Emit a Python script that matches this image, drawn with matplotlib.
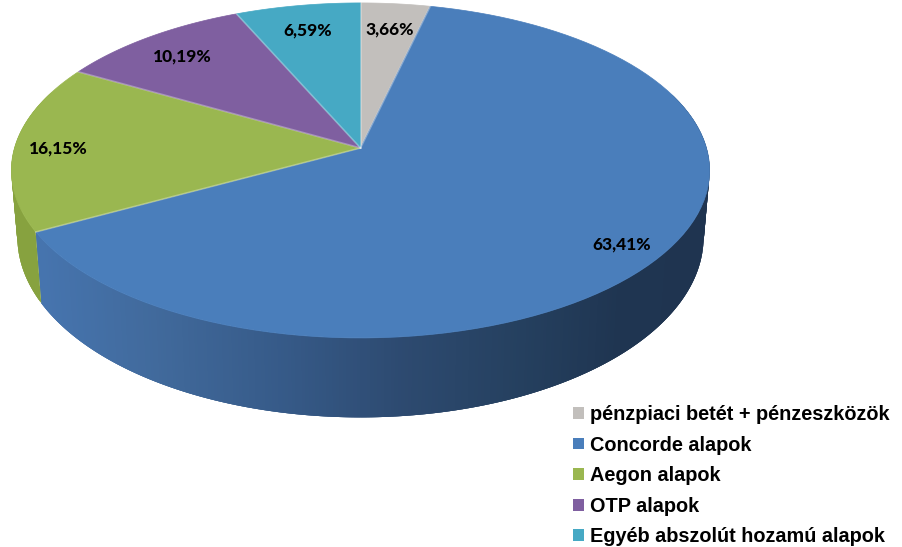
import matplotlib
matplotlib.use('Agg')
import matplotlib.pyplot as plt
from matplotlib.colors import to_rgb
from matplotlib.patches import Patch
import numpy as np

labels = ['pénzpiaci betét + pénzeszközök', 'Concorde alapok', 'Aegon alapok',
          'OTP alapok', 'Egyéb abszolút hozamú alapok']
values = [3.66, 63.41, 16.15, 10.19, 6.59]
value_labels = ['3,66%', '63,41%', '16,15%', '10,19%', '6,59%']
colors = ['#c2bfbc', '#4a7ebb', '#9ab750', '#7f5fa0', '#46a9c4']

label_r = [0.82, 0.88, 0.875, 0.83, 0.82]

# projection of the tilted disc, pixels
cx, cy = 360.5, 148
a, b, k = 346, 164.5, 0.134
a2, b2, d2 = 340, 177, 65


def top(t, r=1.0):
    # t in degrees, clockwise from 12 o'clock
    t = np.radians(t)
    den = 1 + k*r*np.cos(t)
    return cx + a*r*np.sin(t)/den, cy - b*r*np.cos(t)/den


def low(t):
    t = np.radians(t)
    den = 1 + k*np.cos(t)
    return cx + a2*np.sin(t)/den, cy + d2 - b2*np.cos(t)/den


edges = np.cumsum([0] + values)/100*360

fig = plt.figure(figsize=(9.02, 5.47), dpi=100)
ax = fig.add_axes([0, 0, 1, 1])
ax.set_xlim(0, 902)
ax.set_ylim(547, 0)
ax.axis('off')

# side wall, strips so the shading runs left to right
shade_x = [40, 150, 280, 400, 520, 620, 710]
shade_r = ['#4674ae', '#416a9c', '#365a88', '#2d4a70', '#25405f', '#1f3551', '#1f3450']
shade_rgb = np.array([to_rgb(c) for c in shade_r])
step = 0.5
for t0 in np.arange(70, 290, step):
    # each strip runs under the next one, no seams
    t1 = t0 + 3*step
    if t0 < edges[2]:
        t1 = min(t1, edges[2])
    x0, y0 = top(t0)
    x1, y1 = top(t1)
    x2, y2 = low(t1)
    x3, y3 = low(t0)
    if t0 < edges[2]:
        mx = (x0 + x1)/2
        col = [np.interp(mx, shade_x, shade_rgb[:, i]) for i in range(3)]
    else:
        col = '#87a23f'
    ax.fill([x0, x1, x2, x3], [y0, y1, y2, y3], color=col, lw=0, zorder=1)

# top face
for i in range(len(values)):
    t = np.linspace(edges[i], edges[i+1], 100)
    xs, ys = top(t)
    ax.fill(np.r_[cx, xs], np.r_[cy, ys], color=colors[i], lw=0.5, zorder=2)

# pale seams between the slices
for e in edges[:-1]:
    xe, ye = top(e)
    ax.plot([cx, xe], [cy, ye], color='white', alpha=0.3, lw=1.2, zorder=3)

for i in range(len(values)):
    xt, yt = top((edges[i] + edges[i+1])/2, label_r[i])
    ax.text(xt, yt + 2, value_labels[i], ha='center', va='center', fontsize=12.5,
            fontweight='black', family='Lato', color='black', zorder=4)

handles = [Patch(facecolor=c, edgecolor='none') for c in colors]
ax.legend(handles, labels, loc='upper left', bbox_to_anchor=(573, 405),
          bbox_transform=ax.transData, frameon=False, ncol=1,
          prop={'family': 'Liberation Sans', 'weight': 'bold', 'size': 14.3},
          handlelength=0.55, handleheight=0.55, handletextpad=0.3,
          labelspacing=0.58, borderpad=0, borderaxespad=0)

fig.savefig('out.png', dpi=100)
